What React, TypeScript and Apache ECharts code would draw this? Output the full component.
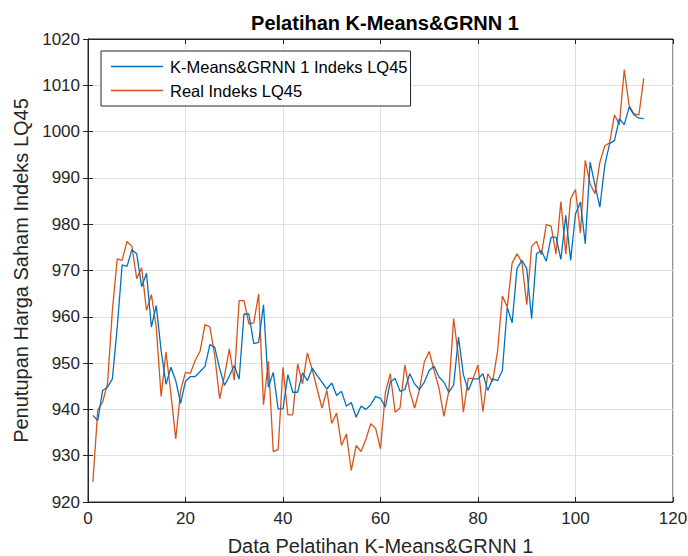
import React, { useEffect, useRef } from "react";
import * as echarts from "echarts";

const titleText = "Pelatihan K-Means&GRNN 1";
const xName = "Data Pelatihan K-Means&GRNN 1";
const yName = "Penutupan Harga Saham Indeks LQ45";
const seriesNames = ["K-Means&GRNN 1 Indeks LQ45", "Real Indeks LQ45"];

const predicted = [
  938.7, 937.6, 944.1, 944.8, 946.6, 957.8, 971.2, 970.9, 974.5, 973.6,
  966.5, 969.4, 957.8, 962.4, 952.7, 945.4, 949.1, 946.2, 941.3, 946.1,
  947.1, 947.1, 948.2, 949.3, 954.0, 953.4, 948.8, 945.2, 947.2, 949.5,
  946.5, 960.6, 960.6, 954.2, 954.5, 962.6, 944.8, 948.0, 940.1, 940.1,
  947.5, 943.7, 943.7, 947.9, 946.2, 948.9, 947.3, 945.9, 944.4, 945.7,
  943.0, 943.9, 940.7, 941.5, 938.3, 940.7, 940.0, 941.0, 942.8, 942.4,
  940.5, 945.9, 946.7, 943.9, 944.3, 947.7, 945.5, 944.3, 945.9, 948.4,
  949.3, 947.0, 945.9, 943.7, 945.3, 955.6, 947.5, 944.1, 946.6, 946.6,
  947.7, 944.1, 946.6, 946.2, 948.4, 962.0, 958.7, 970.4, 972.2, 970.4,
  959.6, 973.6, 974.3, 972.0, 977.2, 977.2, 972.4, 981.9, 972.2, 982.2,
  984.8, 975.8, 993.4, 988.4, 983.7, 992.7, 997.4, 998.1, 1002.8, 1001.5,
  1005.3, 1003.6, 1002.9, 1002.8,
];

const real = [
  924.3, 939.8, 941.6, 945.5, 961.4, 972.5, 972.2, 976.3, 975.2, 968.2,
  970.6, 961.4, 964.8, 957.8, 942.8, 952.4, 943.4, 933.6, 944.1, 948.0,
  947.8, 950.6, 952.6, 958.3, 957.8, 951.6, 942.3, 947.3, 953.1, 946.3,
  963.5, 963.5, 958.5, 958.7, 964.9, 941.0, 950.4, 930.9, 931.3, 949.1,
  938.8, 938.8, 949.8, 945.5, 952.2, 948.6, 944.4, 940.3, 944.1, 937.0,
  939.2, 932.2, 934.7, 926.8, 932.2, 930.9, 933.5, 936.9, 935.9, 931.5,
  943.6, 947.7, 939.4, 940.3, 949.6, 943.9, 940.3, 944.3, 950.3, 952.5,
  948.4, 944.6, 938.5, 943.9, 959.6, 951.3, 939.4, 946.7, 946.7, 949.6,
  939.5, 947.7, 946.0, 952.5, 964.5, 962.1, 971.6, 973.6, 971.8, 962.6,
  975.2, 976.3, 973.4, 979.9, 979.6, 973.6, 984.9, 973.6, 985.5, 987.5,
  978.1, 993.8, 988.7, 986.6, 993.4, 996.9, 997.6, 1003.6, 1001.5, 1013.4,
  1005.6, 1003.8, 1003.6, 1011.5,
];

const xMin = 0;
const xMax = 120;
const xStep = 20;
const yMin = 920;
const yMax = 1020;
const yStep = 10;

export default function App() {
  const ref = useRef<HTMLDivElement>(null);
  useEffect(() => {
    if (!ref.current) return;
    const chart = echarts.init(ref.current, undefined, { renderer: "svg" });
    const font = "'Liberation Sans', Arial, Helvetica, sans-serif";
    const axisColor = "#262626";
    const gridColor = "#dfdfdf";
    const blue = "#0072BD";
    const orange = "#D95319";
    const toPairs = (arr: number[]) => arr.map((v, i) => [i + 1, v]);
    const plain = (v: number) => String(v);
    chart.setOption({
      animation: false,
      backgroundColor: "#ffffff",
      textStyle: { fontFamily: font },
      title: {
        text: titleText,
        left: 380,
        top: 8,
        textAlign: "center",
        textStyle: { fontFamily: font, fontSize: 20, fontWeight: "bold", color: "#000" },
      },
      legend: {
        orient: "vertical",
        left: 101,
        top: 51,
        padding: [6, 3, 6, 10],
        itemGap: 5,
        itemWidth: 52,
        itemHeight: 1.5,
        icon: "rect",
        borderColor: axisColor,
        borderWidth: 1,
        backgroundColor: "#ffffff",
        textStyle: {
          fontFamily: font,
          fontSize: 16.5,
          color: "#000",
          lineHeight: 19,
          padding: [0, 0, 0, 2],
        },
        data: seriesNames.map((n) => ({ name: n, icon: "rect" })),
      },
      grid: {
        left: 88,
        right: 15,
        top: 39,
        bottom: 54,
        show: true,
        containLabel: false,
        outerBoundsMode: "none",
        borderColor: axisColor,
        borderWidth: 1,
        backgroundColor: "#ffffff",
      },
      xAxis: [
        {
          type: "value",
          min: xMin,
          max: xMax,
          interval: xStep,
          name: xName,
          nameLocation: "middle",
          nameGap: 34,
          nameTextStyle: { fontFamily: font, fontSize: 20, color: "#262626" },
          axisLine: { show: true, lineStyle: { color: axisColor } },
          axisTick: { show: true, inside: true, length: 5, lineStyle: { color: axisColor } },
          axisLabel: { fontFamily: font, fontSize: 17, color: "#262626", margin: 8, formatter: plain },
          splitLine: { show: true, lineStyle: { color: gridColor, width: 1 } },
        },
        {
          type: "value",
          position: "top",
          min: xMin,
          max: xMax,
          interval: xStep,
          axisLine: { show: true, lineStyle: { color: axisColor } },
          axisTick: { show: true, inside: true, length: 5, lineStyle: { color: axisColor } },
          axisLabel: { show: false },
          splitLine: { show: false },
        },
      ],
      yAxis: [
        {
          type: "value",
          min: yMin,
          max: yMax,
          interval: yStep,
          name: yName,
          nameLocation: "middle",
          nameGap: 53,
          nameTextStyle: { fontFamily: font, fontSize: 20, color: "#262626" },
          axisLine: { show: true, lineStyle: { color: axisColor } },
          axisTick: { show: true, inside: true, length: 5, lineStyle: { color: axisColor } },
          axisLabel: { fontFamily: font, fontSize: 17, color: "#262626", margin: 8, formatter: plain },
          splitLine: { show: true, lineStyle: { color: gridColor, width: 1 } },
        },
        {
          type: "value",
          position: "right",
          min: yMin,
          max: yMax,
          interval: yStep,
          axisLine: { show: true, lineStyle: { color: axisColor } },
          axisTick: { show: true, inside: true, length: 5, lineStyle: { color: axisColor } },
          axisLabel: { show: false },
          splitLine: { show: false },
        },
      ],
      series: [
        {
          name: seriesNames[0],
          type: "line",
          data: toPairs(predicted),
          symbol: "none",
          color: blue,
          lineStyle: { color: blue, width: 1.3 },
          itemStyle: { color: blue },
          z: 3,
        },
        {
          name: seriesNames[1],
          type: "line",
          data: toPairs(real),
          symbol: "none",
          color: orange,
          lineStyle: { color: orange, width: 1.3 },
          itemStyle: { color: orange },
          z: 2,
        },
      ],
    });
    return () => chart.dispose();
  }, []);
  return (
    <div
      ref={ref}
      style={{ position: "fixed", left: 0, top: 0, width: 688, height: 556, background: "#fff" }}
    />
  );
}
